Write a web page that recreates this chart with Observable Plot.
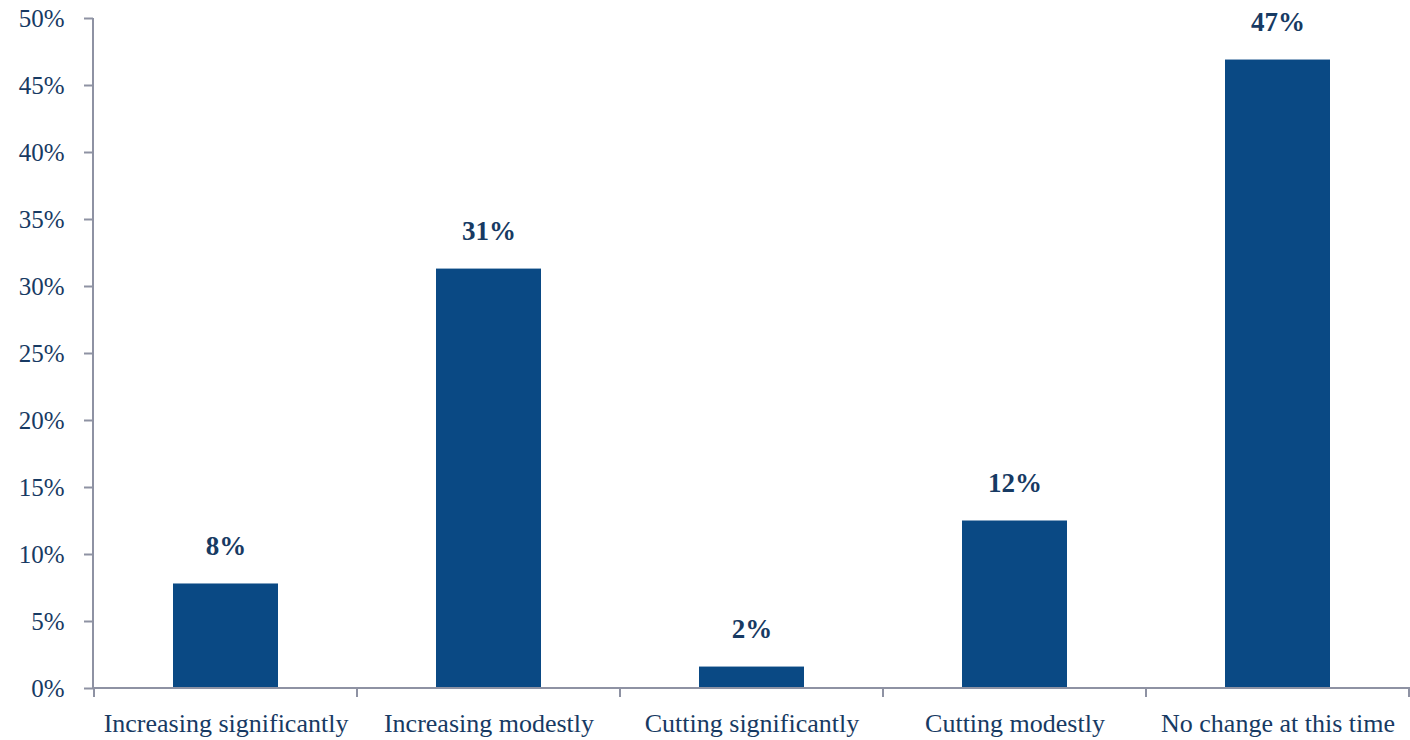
<!DOCTYPE html>
<html>
<head>
<meta charset="utf-8">
<script src="https://cdn.jsdelivr.net/npm/d3@7"></script>
<script src="https://cdn.jsdelivr.net/npm/@observablehq/plot@0.6"></script>
<style>
  html, body { margin: 0; padding: 0; background: #fff; }
  #chart svg { display: block; }
</style>
</head>
<body>
<div id="chart"></div>
<script>
const categories = ["Increasing significantly", "Increasing modestly", "Cutting significantly", "Cutting modestly", "No change at this time"];
const values = [7.8, 31.3, 1.6, 12.5, 46.9];
const valueLabels = ["8%", "31%", "2%", "12%", "47%"];
const yTicks = [0, 5, 10, 15, 20, 25, 30, 35, 40, 45, 50];

const data = categories.map((c, i) => ({category: c, value: values[i], label: valueLabels[i]}));

const textColor = "#173a63";
const barColor = "#0a4984";
const axisColor = "#8e92a3";
const font = "'Liberation Serif', 'DejaVu Serif', serif";

// Axis lines and category-boundary ticks derived from the scales
function axisFrame(index, scales, values, dimensions) {
  const g = d3.create("svg:g");
  const x = scales.x;
  const y = scales.y;
  const xs = categories.map(c => x(c));
  const step = xs[1] - xs[0];
  const bw = x.bandwidth ? x.bandwidth() : step * 0.4;
  const pad = (step - bw) / 2;
  const y0 = y(0);
  const left = dimensions.marginLeft;
  const right = dimensions.width - dimensions.marginRight;
  g.append("line").attr("x1", left).attr("x2", left).attr("y1", y(50)).attr("y2", y0)
    .attr("stroke", axisColor).attr("stroke-width", 2);
  g.append("line").attr("x1", left).attr("x2", right).attr("y1", y0).attr("y2", y0)
    .attr("stroke", axisColor).attr("stroke-width", 2);
  const bounds = xs.map(v => v - pad).concat([xs[xs.length - 1] + bw + pad]);
  bounds.forEach(b => {
    const bx = Math.min(b, right - 1);
    g.append("line").attr("x1", bx).attr("x2", bx).attr("y1", y0).attr("y2", y0 + 9)
      .attr("stroke", axisColor).attr("stroke-width", 2);
  });
  return g.node();
}

const chart = Plot.plot({
  width: 1410,
  height: 740,
  marginTop: 18,
  marginBottom: 52,
  marginLeft: 93,
  marginRight: 0,
  style: {fontFamily: font, color: textColor, background: "#fff"},
  x: {domain: categories, paddingInner: 0.6, paddingOuter: 0.3, label: null},
  y: {domain: [0, 50], label: null},
  marks: [
    Plot.barY(data, {x: "category", y: "value", fill: barColor}),
    Plot.text(data, {
      x: "category", y: "value", text: "label",
      dy: -38, fontSize: 27, fontWeight: "bold", fill: textColor, fontFamily: font
    }),
    Plot.axisY(yTicks, {
      tickSize: 9, tickPadding: 20, tickFormat: d => d + "%",
      fontSize: 25, stroke: axisColor, strokeWidth: 2, fill: textColor, label: null
    }),
    Plot.axisX({
      tickSize: 0, tickPadding: 25, fontSize: 26, fill: textColor, label: null
    }),
    axisFrame
  ]
});

document.getElementById("chart").appendChild(chart);
</script>
</body>
</html>
